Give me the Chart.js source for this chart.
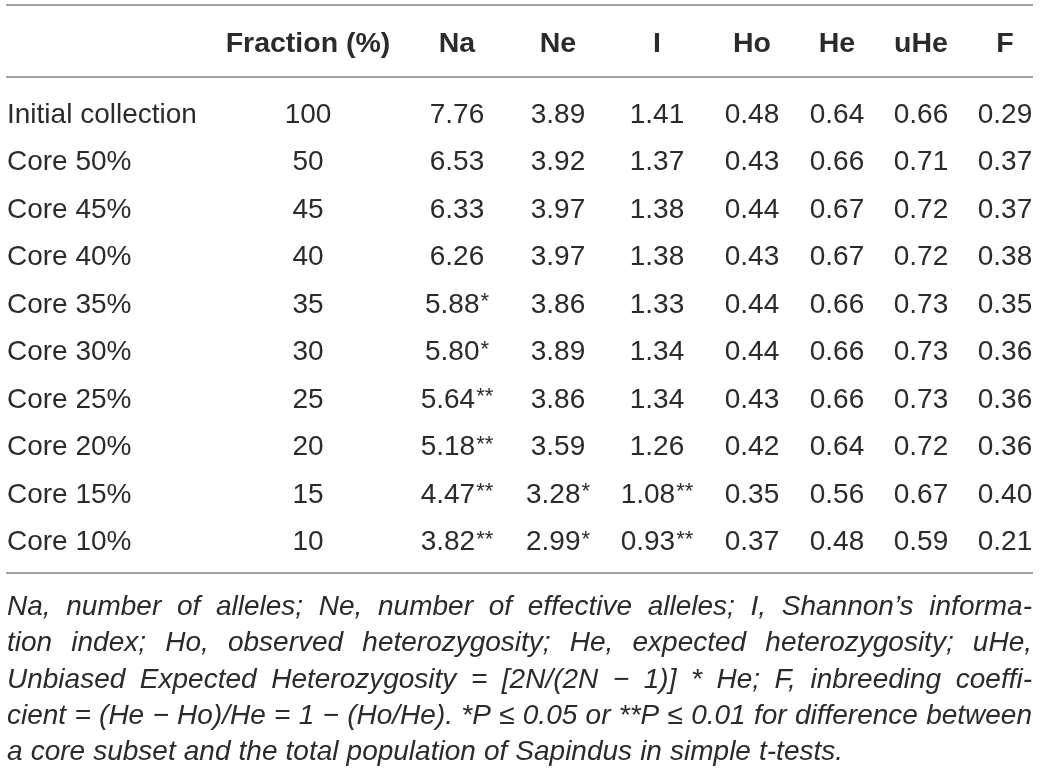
<!DOCTYPE html>
<html>
<head>
<meta charset="utf-8">
<script src="https://cdn.jsdelivr.net/npm/chart.js@4.4.1/dist/chart.umd.min.js"></script>
<style>
  html, body { margin: 0; padding: 0; background: #ffffff; }
  canvas { display: block; }
</style>
</head>
<body>
<canvas id="c" width="1040" height="772"></canvas>
<script>
// ---------- DATA ----------
const rowLabels = ["Initial collection", "Core 50%", "Core 45%", "Core 40%", "Core 35%",
                   "Core 30%", "Core 25%", "Core 20%", "Core 15%", "Core 10%"];
const headers   = ["", "Fraction (%)", "Na", "Ne", "I", "Ho", "He", "uHe", "F"];
const fraction  = [100, 50, 45, 40, 35, 30, 25, 20, 15, 10];
const na        = [7.76, 6.53, 6.33, 6.26, 5.88, 5.80, 5.64, 5.18, 4.47, 3.82];
const naSig     = ["", "", "", "", "*", "*", "**", "**", "**", "**"];
const ne        = [3.89, 3.92, 3.97, 3.97, 3.86, 3.89, 3.86, 3.59, 3.28, 2.99];
const neSig     = ["", "", "", "", "", "", "", "", "*", "*"];
const shannonI  = [1.41, 1.37, 1.38, 1.38, 1.33, 1.34, 1.34, 1.26, 1.08, 0.93];
const iSig      = ["", "", "", "", "", "", "", "", "**", "**"];
const ho        = [0.48, 0.43, 0.44, 0.43, 0.44, 0.44, 0.43, 0.42, 0.35, 0.37];
const he        = [0.64, 0.66, 0.67, 0.67, 0.66, 0.66, 0.66, 0.64, 0.56, 0.48];
const uhe       = [0.66, 0.71, 0.72, 0.72, 0.73, 0.73, 0.73, 0.72, 0.67, 0.59];
const fCoef     = [0.29, 0.37, 0.37, 0.38, 0.35, 0.36, 0.36, 0.36, 0.40, 0.21];
const footnoteLines = [
  "Na, number of alleles; Ne, number of effective alleles; I, Shannon\u2019s informa-",
  "tion index; Ho, observed heterozygosity; He, expected heterozygosity; uHe,",
  "Unbiased Expected Heterozygosity = [2N/(2N \u2212 1)] * He; F, inbreeding coeffi-",
  "cient = (He \u2212 Ho)/He = 1 \u2212 (Ho/He). *P \u2264 0.05 or **P \u2264 0.01 for difference between",
  "a core subset and the total population of Sapindus in simple t-tests."
];

// ---------- LAYOUT / STYLE ----------
const colX = [7, 308, 457, 558, 657, 752, 837, 921, 1005];
const ROW0 = 113, ROWH = 47.5;
const HEADER_ROW = -1.5;
const RULES = [-2.27, -0.76, 9.69];
const FONT = '"Liberation Sans", Arial, Helvetica, sans-serif';
const TEXT = '#2b2b2b';
const RULE_COLOR = '#a3a3a3';
const FOOT_BASE = [615, 651, 688, 724, 760];

const fmt = v => v.toFixed(2);
const columns = [
  { cells: rowLabels, sig: null, align: 'left' },
  { cells: fraction.map(String), sig: null, align: 'center' },
  { cells: na.map(fmt), sig: naSig, align: 'center' },
  { cells: ne.map(fmt), sig: neSig, align: 'center' },
  { cells: shannonI.map(fmt), sig: iSig, align: 'center' },
  { cells: ho.map(fmt), sig: null, align: 'center' },
  { cells: he.map(fmt), sig: null, align: 'center' },
  { cells: uhe.map(fmt), sig: null, align: 'center' },
  { cells: fCoef.map(fmt), sig: null, align: 'center' }
];

const datasets = columns.map((col, c) => ({
  label: headers[c] || 'Label',
  data: col.cells.map((_, r) => ({ x: colX[c], y: r })),
  cells: col.cells,
  sig: col.sig,
  align: col.align,
  pointRadius: 0,
  pointHoverRadius: 0,
  showLine: false
}));

const tablePlugin = {
  id: 'tablePlugin',
  afterDatasetsDraw(chart) {
    const ctx = chart.ctx;
    const xs = chart.scales.x, ys = chart.scales.y;
    ctx.save();
    // rules
    ctx.strokeStyle = RULE_COLOR;
    ctx.lineWidth = 2;
    RULES.forEach(v => {
      const y = Math.round(ys.getPixelForValue(v));
      ctx.beginPath();
      ctx.moveTo(xs.getPixelForValue(6), y);
      ctx.lineTo(xs.getPixelForValue(1033), y);
      ctx.stroke();
    });
    ctx.fillStyle = TEXT;
    ctx.textBaseline = 'alphabetic';
    // headers
    ctx.font = 'bold 28.5px ' + FONT;
    headers.forEach((h, c) => {
      if (!h) return;
      const x = xs.getPixelForValue(colX[c]);
      const y = ys.getPixelForValue(HEADER_ROW) + 10;
      ctx.textAlign = 'center';
      ctx.fillText(h, x, y);
    });
    // cells
    chart.data.datasets.forEach((ds, d) => {
      const meta = chart.getDatasetMeta(d);
      meta.data.forEach((pt, i) => {
        const txt = ds.cells[i];
        const s = ds.sig ? ds.sig[i] : '';
        const y = pt.y + 9.5;
        ctx.font = '28px ' + FONT;
        const w = ctx.measureText(txt).width;
        ctx.font = '22px ' + FONT;
        const sw = s ? ctx.measureText(s).width + 1 : 0;
        let x0;
        if (ds.align === 'left') x0 = pt.x;
        else x0 = pt.x - (w + sw) / 2;
        ctx.textAlign = 'left';
        ctx.font = '28px ' + FONT;
        ctx.fillText(txt, x0, y);
        if (s) {
          ctx.font = '22px ' + FONT;
          ctx.fillText(s, x0 + w + 1, y - 4.5);
        }
      });
    });
    // footnote (justified italic)
    ctx.font = 'italic 28px ' + FONT;
    ctx.textAlign = 'left';
    const left = 7, right = 1032;
    footnoteLines.forEach((line, li) => {
      const words = line.split(' ');
      const widths = words.map(w => ctx.measureText(w).width);
      const total = widths.reduce((a, b) => a + b, 0);
      const last = li === footnoteLines.length - 1;
      const space = ctx.measureText(' ').width;
      const gap = last ? space + 0.3 : (right - left - total) / (words.length - 1);
      let x = left;
      words.forEach((w, k) => {
        ctx.fillText(w, x, FOOT_BASE[li]);
        x += widths[k] + gap;
      });
    });
    ctx.restore();
  }
};

new Chart(document.getElementById('c'), {
  type: 'scatter',
  data: { datasets },
  options: {
    responsive: false,
    devicePixelRatio: 1,
    animation: false,
    layout: { padding: 0 },
    events: [],
    plugins: { legend: { display: false }, tooltip: { enabled: false } },
    scales: {
      x: { type: 'linear', display: false, min: 0, max: 1040 },
      y: { type: 'linear', display: false, reverse: true,
           min: -ROW0 / ROWH, max: (772 - ROW0) / ROWH }
    }
  },
  plugins: [tablePlugin]
});
</script>
</body>
</html>
